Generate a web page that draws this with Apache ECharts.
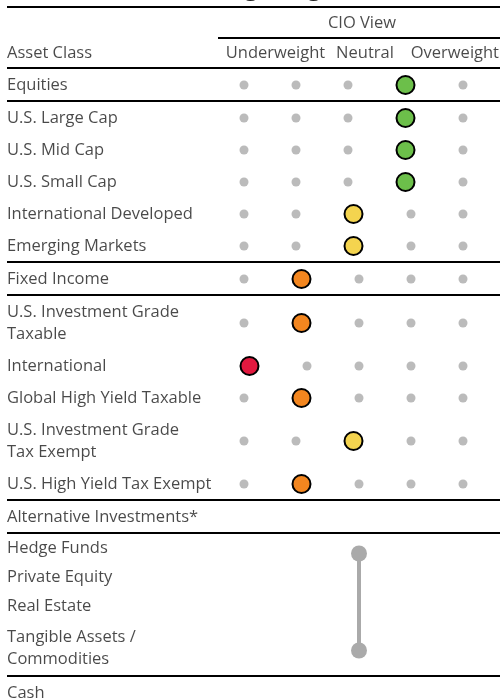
<!DOCTYPE html>
<html>
<head>
<meta charset="utf-8">
<script src="https://cdn.jsdelivr.net/npm/echarts@6/dist/echarts.min.js"></script>
<style>
  html, body { margin: 0; padding: 0; background: #fff; }
  #chart { width: 500px; height: 700px; }
</style>
</head>
<body>
<div id="chart"></div>
<script>
// ---------------- DATA ----------------
const chartTitle = 'Asset Class Weightings, Tactical';
const viewHeader = 'CIO View';
const rowHeader = 'Asset Class';
const columnLabels = ['Underweight', 'Neutral', 'Overweight'];

const assetClasses = [
  'Equities',
  'U.S. Large Cap',
  'U.S. Mid Cap',
  'U.S. Small Cap',
  'International Developed',
  'Emerging Markets',
  'Fixed Income',
  'U.S. Investment Grade\nTaxable',
  'International',
  'Global High Yield Taxable',
  'U.S. Investment Grade\nTax Exempt',
  'U.S. High Yield Tax Exempt',
  'Alternative Investments*',
  'Hedge Funds',
  'Private Equity',
  'Real Estate',
  'Tangible Assets /\nCommodities',
  'Cash'
];
// CIO view on a 5-step scale: 1 = underweight ... 3 = neutral ... 5 = overweight
const cioView = [4, 4, 4, 4, 3, 3, 2, 2, 1, 2, 3, 2, null, null, null, null, null, null];
const sectionRows = ['Equities', 'Fixed Income', 'Alternative Investments*', 'Cash'];
const compactRows = ['Hedge Funds', 'Private Equity', 'Real Estate', 'Tangible Assets /\nCommodities'];
const altRangeFrom = 'Hedge Funds';
const altRangeTo = 'Tangible Assets /\nCommodities';
const altRangeView = 3;

// ---------------- STYLE / LAYOUT ----------------
const FONT = '"Open Sans", "Liberation Sans", sans-serif';
const TEXT = '#1c1c1c';
const viewColors = { 1: '#e2193f', 2: '#f3861f', 3: '#f4d44f', 4: '#6cbf4a', 5: '#2e8b3a' };
const DOT = 9, BIG = 20, GAP = 43, DOT_LEFT = 239.5;
const TABLE_TOP = 68, ROW_H = 32, ROW_H2 = 54, CROW_H = 29, CROW_H2 = 55;
const LEFT = 7, RIGHT = 500;
const FS = 16.5;

function slotX(slot, view) {
  let x = DOT_LEFT;
  for (let i = 1; i < slot; i++) x += (i === view ? BIG : DOT) + GAP;
  return x + (slot === view ? BIG : DOT) / 2;
}

// row layout
const rowY = [];
const separators = [TABLE_TOP];
let y = TABLE_TOP;
assetClasses.forEach((name, i) => {
  const isSection = sectionRows.includes(name);
  const prevSection = i > 0 && sectionRows.includes(assetClasses[i - 1]);
  if (isSection && i > 0) { separators.push(y); }
  if (isSection || prevSection) y += 1;
  const two = name.includes('\n');
  const compact = compactRows.includes(name);
  const h = compact ? (two ? CROW_H2 : CROW_H) : (two ? ROW_H2 : ROW_H);
  rowY.push(y + h / 2);
  y += h;
  if (isSection && i < assetClasses.length - 1) { separators.push(y); }
});
const uniqSeps = [...new Set(separators.map(v => Math.round(v)))];

const labelData = assetClasses.map((n, i) => ({ value: [LEFT, rowY[i]], name: n }));
const dotData = [], bigData = [];
cioView.forEach((v, i) => {
  if (v == null) return;
  for (let s = 1; s <= 5; s++) {
    if (s === v) bigData.push({ value: [slotX(s, v), rowY[i]], itemStyle: { color: viewColors[v] } });
    else dotData.push([slotX(s, v), rowY[i]]);
  }
});
const fromIdx = assetClasses.indexOf(altRangeFrom), toIdx = assetClasses.indexOf(altRangeTo);
const rangeX = slotX(altRangeView, altRangeView - 1);
const rangeData = [[rangeX, rowY[fromIdx] + 5], [rangeX, rowY[toIdx] + 2]];

const sepLines = uniqSeps.map(v => [{ coord: [LEFT, v] }, { coord: [RIGHT, v] }]);
sepLines.push([{ coord: [LEFT, 7] }, { coord: [RIGHT, 7] }]);
sepLines.push([{ coord: [218, 38] }, { coord: [RIGHT, 38] }]);

const headerData = [
  { value: [362, 23], name: viewHeader, align: 'center' },
  { value: [LEFT, 53], name: rowHeader, align: 'left' },
  { value: [275.5, 53], name: columnLabels[0], align: 'center' },
  { value: [365, 53], name: columnLabels[1], align: 'center' },
  { value: [499, 53], name: columnLabels[2], align: 'right' }
].map(d => ({ value: d.value, name: d.name, label: { align: d.align } }));

const chart = echarts.init(document.getElementById('chart'), null, { renderer: 'canvas' });
chart.setOption({
  animation: false,
  backgroundColor: '#ffffff',
  grid: { left: 0, right: 0, top: 0, bottom: 0 },
  xAxis: { type: 'value', min: 0, max: 500, show: false },
  yAxis: { type: 'value', min: 0, max: 700, inverse: true, show: false },
  graphic: [{
    type: 'text', left: 'center', top: -24,
    style: { text: chartTitle, font: 'bold 24px ' + FONT, fill: TEXT }
  }],
  series: [
    {
      name: 'rules', type: 'line', data: [], symbol: 'none',
      markLine: {
        silent: true, symbol: 'none', label: { show: false },
        lineStyle: { color: '#000', width: 2, type: 'solid', opacity: 1 },
        data: sepLines
      }
    },
    {
      name: 'headers', type: 'scatter', symbolSize: 0, data: headerData,
      label: {
        show: true, position: 'inside', formatter: p => p.name,
        fontFamily: FONT, fontSize: FS, color: TEXT, verticalAlign: 'middle'
      }
    },
    {
      name: 'rows', type: 'scatter', symbolSize: 0, data: labelData,
      label: {
        show: true, position: 'inside', align: 'left', verticalAlign: 'middle',
        formatter: p => p.name, fontFamily: FONT, fontSize: FS, lineHeight: 22, color: TEXT
      }
    },
    {
      name: 'dots', type: 'scatter', symbol: 'circle', symbolSize: DOT, data: dotData,
      itemStyle: { color: '#bbbbbb', opacity: 1 }
    },
    {
      name: 'views', type: 'scatter', symbol: 'circle', symbolSize: BIG - 2, data: bigData,
      itemStyle: { borderColor: '#000', borderWidth: 2, opacity: 1 }
    },
    {
      name: 'altRange', type: 'line', data: rangeData, symbol: 'circle', symbolSize: 16,
      lineStyle: { color: '#aaaaaa', width: 4, opacity: 1 }, itemStyle: { color: '#aaaaaa', opacity: 1 }
    }
  ]
});
</script>
</body>
</html>
